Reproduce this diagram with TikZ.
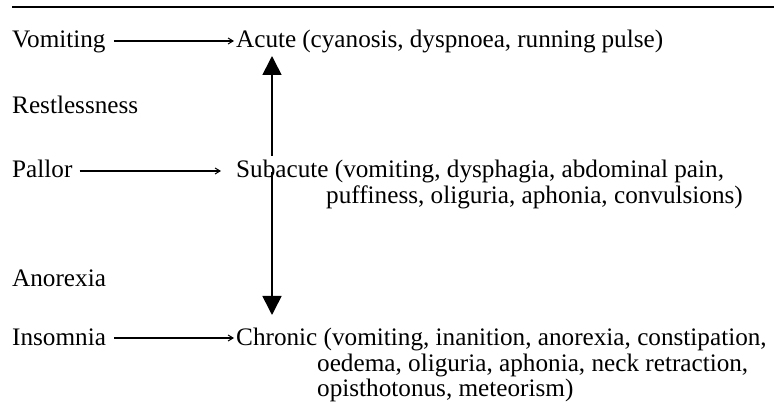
\documentclass[tikz,border=0pt]{standalone}
\usepackage{fontspec}
\setmainfont{Liberation Serif}
\usetikzlibrary{arrows.meta}
\newcommand{\fitline}[2]{\makebox[#1][s]{#2}}
\begin{document}
\begin{tikzpicture}[x=1pt,y=-1pt,
  txt/.style={inner sep=0pt,anchor=base west,font=\fontsize{25.2}{27}\selectfont},
  harrow/.style={line width=1.1pt,-{Straight Barb[length=5pt,width=6pt,line width=1pt]}},
  varrow/.style={line width=1.6pt,-{Triangle[length=19pt,width=19pt]}}]
\useasboundingbox (0,0) rectangle (774,403);
\coordinate (r1) at (12,7);
\coordinate (r2) at (774,7);
\draw[line width=1.4pt] (r1) -- (r2);
% left column
\node[txt] (vom)  at (12,48)  {Vomiting};
\node[txt] (rest) at (12,114) {Restlessness};
\node[txt] (pal)  at (12,178) {Pallor};
\node[txt] (anor) at (12,287) {Anorexia};
\node[txt] (ins)  at (12,345) {Insomnia};
% right column
\node[txt] (acute) at (236,48)  {\fitline{427pt}{Acute (cyanosis, dyspnoea, running pulse)}};
\node[txt] (sub)   at (236,178) {Subacute (vomiting, dysphagia, abdominal pain,};
\node[txt] (sub2)  at (326,204) {puffiness, oliguria, aphonia, convulsions)};
\node[txt] (chron) at (236,345) {Chronic (vomiting, inanition, anorexia, constipation,};
\node[txt] (chron2) at (317,371) {oedema, oliguria, aphonia, neck retraction,};
\node[txt] (chron3) at (317,396) {opisthotonus, meteorism)};
% horizontal arrows
\draw[harrow] ([shift={(8pt,7pt)}]vom.base east) -- ([shift={(-2pt,7pt)}]acute.base west);
\draw[harrow] ([shift={(7pt,7pt)}]pal.base east) -- ([shift={(-15pt,7pt)}]sub.base west);
\draw[harrow] ([shift={(8pt,7pt)}]ins.base east) -- ([shift={(-2pt,7pt)}]chron.base west);
% vertical arrows
\coordinate (up0) at (272,156);
\coordinate (up1) at (272,56);
\coordinate (dn0) at (272,172);
\coordinate (dn1) at (272,315);
\draw[varrow] (up0) -- (up1);
\draw[varrow] (dn0) -- (dn1);
\end{tikzpicture}
\end{document}
